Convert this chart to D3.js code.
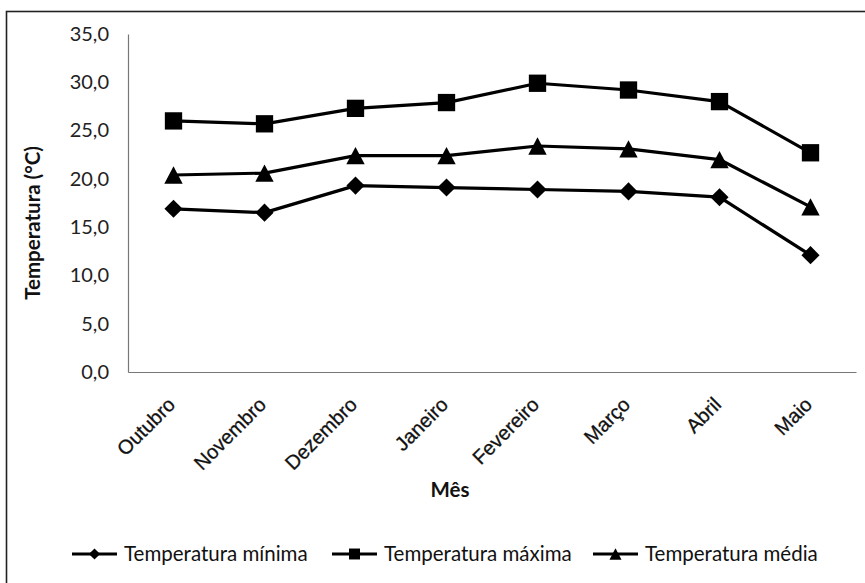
<!DOCTYPE html>
<html>
<head>
<meta charset="utf-8">
<script src="https://cdn.jsdelivr.net/npm/d3@7/dist/d3.min.js"></script>
<style>
  html, body { margin: 0; padding: 0; background: #fff; }
  svg { display: block; }
</style>
</head>
<body>
<svg id="chart" width="865" height="583"></svg>
<script>
// Monthly temperatures (°C), October to May
const months = ["Outubro", "Novembro", "Dezembro", "Janeiro", "Fevereiro", "Março", "Abril", "Maio"];
const tempMin = [16.9, 16.5, 19.3, 19.1, 18.9, 18.7, 18.1, 12.1];
const tempMax = [26.0, 25.7, 27.3, 27.9, 29.9, 29.2, 28.0, 22.7];
const tempMed = [20.4, 20.6, 22.4, 22.4, 23.4, 23.1, 22.0, 17.1];
const yTicks = [0, 5, 10, 15, 20, 25, 30, 35];

// triangle marker centred on its bounding box (width ≈ height)
const boxTriangle = {
  draw(ctx, size) {
    const h = Math.sqrt(size) / 2;
    ctx.moveTo(0, -h);
    ctx.lineTo(h * 1.06, h);
    ctx.lineTo(-h * 1.06, h);
    ctx.closePath();
  }
};

const seriesList = [
  { name: "Temperatura mínima", values: tempMin, shape: d3.symbolDiamond2, size: 210, legendSize: 80 },
  { name: "Temperatura máxima", values: tempMax, shape: d3.symbolSquare, size: 300, legendSize: 120 },
  { name: "Temperatura média", values: tempMed, shape: boxTriangle, size: 300, legendSize: 130 }
];

const svg = d3.select("#chart");
const calibriLike = "Lato, 'Open Sans', sans-serif";
const arialLike = "'Liberation Sans', Arial, sans-serif";

// outer frame of the chart area
svg.append("rect")
  .attr("x", 6.5).attr("y", 11.5)
  .attr("width", 880).attr("height", 600)
  .attr("fill", "none").attr("stroke", "#222").attr("stroke-width", 1.6);

const plot = { left: 128, right: 856, top: 34, bottom: 372 };

const x = d3.scaleBand().domain(months).range([plot.left, plot.right]);
const y = d3.scaleLinear().domain([0, 35]).range([plot.bottom, plot.top]);
const fmt = v => d3.format(".1f")(v).replace(".", ",");

// y axis: line + labels, no tick marks
const yAxis = svg.append("g")
  .attr("transform", `translate(${plot.left},0)`)
  .call(d3.axisLeft(y).tickValues(yTicks).tickFormat(fmt).tickSize(0).tickPadding(19));
yAxis.select(".domain").attr("stroke", "#777").attr("stroke-width", 1.2);
yAxis.selectAll("text")
  .attr("font-family", calibriLike).attr("font-size", 20).attr("fill", "#222");

// x axis: line + rotated month labels
const xAxis = svg.append("g")
  .attr("transform", `translate(0,${plot.bottom})`)
  .call(d3.axisBottom(x).tickSize(0).tickFormat(""));
xAxis.select(".domain").attr("stroke", "#777").attr("stroke-width", 1.2);

svg.append("g").selectAll("text")
  .data(months)
  .join("text")
  .attr("transform", d => `translate(${x(d) + x.bandwidth() / 2 - 2},${plot.bottom + 29}) rotate(-45)`)
  .attr("text-anchor", "end")
  .attr("dy", "0.35em")
  .attr("font-family", arialLike).attr("font-size", 20).attr("fill", "#111")
  .attr("stroke", "#111").attr("stroke-width", 0.3)
  .text(d => d);

// axis titles
svg.append("text")
  .attr("transform", `translate(40,${(plot.top + plot.bottom) / 2 + 20}) rotate(-90)`)
  .attr("text-anchor", "middle")
  .attr("font-family", calibriLike).attr("font-weight", "bold").attr("font-size", 20.5)
  .attr("fill", "#111")
  .text("Temperatura (°C)");

svg.append("text")
  .attr("x", 450).attr("y", 497)
  .attr("text-anchor", "middle")
  .attr("font-family", calibriLike).attr("font-weight", "bold").attr("font-size", 20.5)
  .attr("fill", "#111")
  .text("Mês");

// series lines and markers
const cx = d => x(d) + x.bandwidth() / 2;
const line = d3.line().x((v, i) => cx(months[i])).y(v => y(v));

seriesList.forEach(s => {
  svg.append("path")
    .datum(s.values)
    .attr("d", line)
    .attr("fill", "none").attr("stroke", "#000").attr("stroke-width", 3.2)
    .attr("stroke-linejoin", "round");
  svg.append("g").selectAll("path")
    .data(s.values)
    .join("path")
    .attr("transform", (v, i) => `translate(${cx(months[i])},${y(v)})`)
    .attr("d", d3.symbol(s.shape, s.size))
    .attr("fill", "#000");
});

// legend
const legendStarts = [72, 332, 593];
const legendY = 554;
const legend = svg.append("g");
seriesList.forEach((s, i) => {
  const g = legend.append("g").attr("transform", `translate(${legendStarts[i]},${legendY})`);
  g.append("line").attr("x1", 0).attr("x2", 45).attr("y1", 0).attr("y2", 0)
    .attr("stroke", "#000").attr("stroke-width", 3.2);
  g.append("path").attr("transform", "translate(22.5,0)")
    .attr("d", d3.symbol(s.shape, s.legendSize)).attr("fill", "#000");
  g.append("text").attr("x", 52).attr("y", 0).attr("dy", "0.35em")
    .attr("font-family", calibriLike).attr("font-size", 20.5).attr("fill", "#111")
    .text(s.name);
});
</script>
</body>
</html>
